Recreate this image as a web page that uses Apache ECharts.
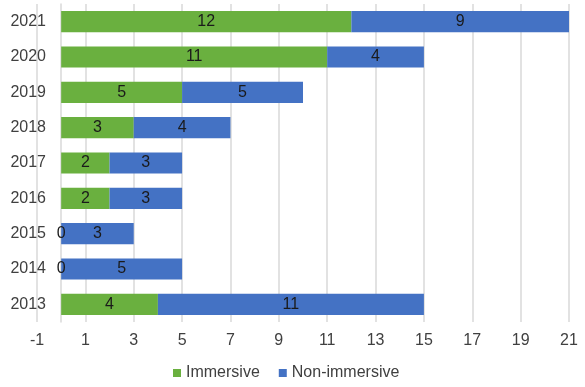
<!DOCTYPE html>
<html>
<head>
<meta charset="utf-8">
<script src="https://cdn.jsdelivr.net/npm/echarts@6/dist/echarts.min.js"></script>
<style>
  html, body { margin: 0; padding: 0; background: #fff; }
  #chart { width: 585px; height: 387px; }
</style>
</head>
<body>
<div id="chart"></div>
<script>
// Publications per year, split by study type
const years = ['2013', '2014', '2015', '2016', '2017', '2018', '2019', '2020', '2021'];
const immersive = [4, 0, 0, 2, 2, 3, 5, 11, 12];
const nonImmersive = [11, 5, 3, 3, 3, 4, 5, 4, 9];
const seriesNames = ['Immersive', 'Non-immersive'];

const textColor = '#404040';
const font = 'Liberation Sans, Arial, sans-serif';

const chart = echarts.init(document.getElementById('chart'), null, { renderer: 'canvas' });

const barLabel = {
  show: true,
  position: 'inside',
  color: '#1a1a1a',
  fontSize: 16,
  fontFamily: font
};

chart.setOption({
  animation: false,
  grid: { left: 37, right: 16, top: 4, bottom: 65, containLabel: false, outerBoundsMode: 'none' },
  legend: {
    bottom: 1,
    left: 168,
    itemWidth: 8,
    itemHeight: 8,
    itemGap: 19,
    icon: 'rect',
    textStyle: { color: textColor, fontSize: 16, fontFamily: font },
    data: seriesNames
  },
  xAxis: {
    type: 'value',
    min: -1,
    max: 21,
    interval: 2,
    axisLine: { show: false },
    axisTick: { show: false },
    axisLabel: { color: textColor, fontSize: 16, fontFamily: font, margin: 11 },
    splitLine: { show: true, lineStyle: { color: '#d9d9d9', width: 1.5 } }
  },
  yAxis: {
    type: 'category',
    data: years,
    axisLine: { show: true, onZero: true, lineStyle: { color: '#d9d9d9', width: 1.5 } },
    axisTick: { show: false },
    axisLabel: { color: textColor, fontSize: 16, fontFamily: font, margin: -9 }
  },
  series: [
    {
      name: seriesNames[0],
      type: 'bar',
      stack: 'total',
      barWidth: '60%',
      data: immersive,
      itemStyle: { color: '#6AB03F' },
      label: barLabel
    },
    {
      name: seriesNames[1],
      type: 'bar',
      stack: 'total',
      barWidth: '60%',
      data: nonImmersive,
      itemStyle: { color: '#4472C4' },
      label: barLabel
    }
  ]
});
</script>
</body>
</html>
